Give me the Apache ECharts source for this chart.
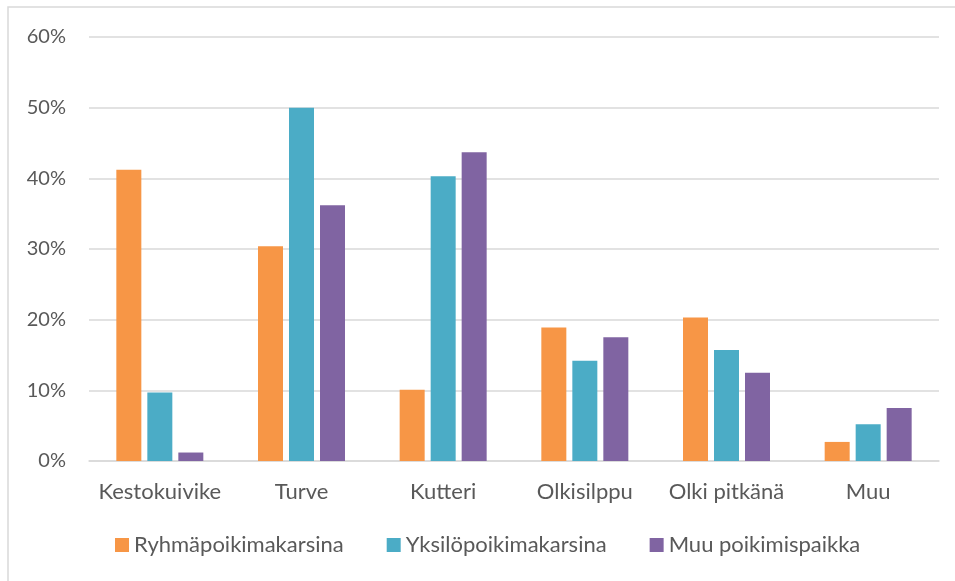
<!DOCTYPE html>
<html>
<head>
<meta charset="utf-8">
<script src="https://cdn.jsdelivr.net/npm/echarts@6/dist/echarts.min.js"></script>
<style>
  html, body { margin: 0; padding: 0; background: #fff; }
  #chart { width: 955px; height: 581px; }
</style>
</head>
<body>
<div id="chart"></div>
<script>
// kuivikkeet poikimapaikoittain
const categories = ['Kestokuivike', 'Turve', 'Kutteri', 'Olkisilppu', 'Olki pitkänä', 'Muu'];
const seriesNames = ['Ryhmäpoikimakarsina', 'Yksilöpoikimakarsina', 'Muu poikimispaikka'];
const ryhma = [41.2, 30.4, 10.1, 18.9, 20.3, 2.7];
const yksilo = [9.7, 50.0, 40.3, 14.2, 15.7, 5.2];
const muu = [1.2, 36.2, 43.7, 17.5, 12.5, 7.5];
const yTicks = [0, 10, 20, 30, 40, 50, 60];
const colors = ['#f79646', '#4bacc6', '#8064a2'];

const FONT = 'Lato, "Open Sans", sans-serif';
const chart = echarts.init(document.getElementById('chart'));

const values = [ryhma, yksilo, muu];

chart.setOption({
  backgroundColor: '#fff',
  animation: false,
  textStyle: { fontFamily: FONT },
  graphic: [{
    type: 'rect',
    shape: { x: 8, y: 7, width: 1000, height: 700 },
    style: { fill: 'none', stroke: '#d9d9d9', lineWidth: 1.5 },
    silent: true
  }],
  grid: { left: 89, right: 16, top: 37, bottom: 120 },
  legend: {
    data: seriesNames,
    top: 529,
    left: 110,
    itemWidth: 14,
    itemHeight: 14,
    itemGap: 43,
    icon: 'rect',
    textStyle: { color: '#595959', fontSize: 22, fontFamily: FONT }
  },
  xAxis: {
    type: 'category',
    data: categories,
    axisLine: { lineStyle: { color: '#d9d9d9', width: 1.5 } },
    axisTick: { show: false },
    axisLabel: { color: '#595959', fontSize: 22, margin: 20, interval: 0, hideOverlap: false, fontFamily: FONT }
  },
  yAxis: {
    type: 'value',
    min: yTicks[0],
    max: yTicks[yTicks.length - 1],
    interval: 10,
    axisLine: { show: false },
    axisTick: { show: false },
    axisLabel: { color: '#595959', fontSize: 20, margin: 23, formatter: '{value}%', fontFamily: FONT },
    splitLine: { lineStyle: { color: '#d9d9d9', width: 1.5 } }
  },
  series: seriesNames.map((name, i) => ({
    name,
    type: 'bar',
    data: values[i],
    barWidth: 25,
    barGap: '24%',
    itemStyle: { color: colors[i] }
  }))
});
</script>
</body>
</html>
